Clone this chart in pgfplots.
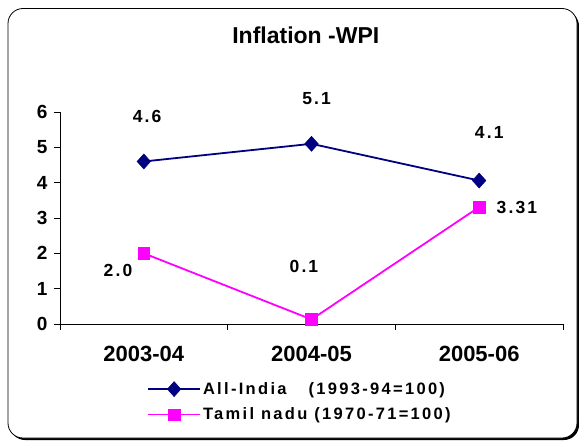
\documentclass[border=0pt]{standalone}
\usepackage{fontspec}
\setmainfont{Liberation Sans}
\newfontfamily\spacedfont[LetterSpace=14]{Liberation Sans}
\newfontfamily\labelfont[LetterSpace=12]{Liberation Sans}
\usepackage{pgfplots}
\pgfplotsset{compat=1.18}
\definecolor{navyc}{HTML}{000080}
\definecolor{magc}{HTML}{FF00FF}
\begin{document}
\begin{tikzpicture}[x=1pt,y=1pt]
\useasboundingbox (-60,-116) rectangle (519,324);
\fill[black] (-50,-116) [rounded corners=15pt] rectangle (519,313);
\draw[black, line width=0.8pt, fill=white, rounded corners=15pt] (-52,-114) rectangle (517,315.5);
\begin{axis}[
  at={(0,0)}, anchor=south west,
  width=503pt, height=212pt, scale only axis,
  xmin=-0.5, xmax=2.5, ymin=0, ymax=6,
  axis x line=bottom, axis y line=left, axis line style={-, line width=0.8pt},
  xtick={-0.5,0.5,1.5,2.5}, xticklabels={},
  extra x ticks={0,1,2},
  extra x tick labels={2003-04,2004-05,2005-06},
  extra x tick style={major tick length=0pt, xticklabel style={yshift=-19pt}},
  ytick={0,1,2,3,4,5,6},
  tick align=outside, major tick length=6pt,
  tick style={black, line width=0.8pt},
  xticklabel style={font=\fontsize{22}{23}\selectfont\bfseries},
  yticklabel style={font=\fontsize{19}{20}\selectfont\bfseries, xshift=-3pt},
  /pgf/number format/assume math mode=true,
  clip=false,
  legend style={at={(axis description cs:0.173,-0.265)}, anchor=north west, draw=none, fill=none,
    inner sep=0pt, row sep=8pt,
    font=\fontsize{16.5}{17}\selectfont\bfseries\spacedfont,
    nodes={inner sep=2pt, anchor=west}},
  legend cell align=left,
  legend image code/.code={\draw[mark repeat=2,mark phase=2,#1] plot coordinates {(0pt,0pt) (26pt,0pt) (52pt,0pt)};},
]
\addplot[navyc, line width=1.8pt, mark=diamond*, mark size=7.5pt, mark options={solid, fill=navyc, line width=0.5pt, xscale=1.2}]
  coordinates {(0,4.6) (1,5.1) (2,4.06)};
\addlegendentry{All-India\hspace{22pt}(1993-94=100)}
\addplot[magc, line width=1.8pt, mark=square*, mark size=5.8pt, mark options={solid, fill=magc, line width=0.5pt}]
  coordinates {(0,2.0) (1,0.13) (2,3.31)};
\addlegendentry{Tamil nadu (1970-71=100)}
\begin{scope}[font=\fontsize{17.5}{18}\selectfont\bfseries]
\node[text=black] at (axis cs:0.019,5.86) {\labelfont 4.6};
\node[text=black] at (axis cs:1.03,6.37) {\labelfont 5.1};
\node[text=black] at (axis cs:2.06,5.41) {\labelfont 4.1};
\node[text=black] at (axis cs:-0.154,1.51) {\labelfont 2.0};
\node[text=black] at (axis cs:0.955,1.62) {\labelfont 0.1};
\node[text=black] at (axis cs:2.225,3.31) {\labelfont 3.31};
\end{scope}
\end{axis}
\node[font=\fontsize{23}{24}\selectfont\bfseries] at (245.8,289) {Inflation -WPI};
\end{tikzpicture}
\end{document}
